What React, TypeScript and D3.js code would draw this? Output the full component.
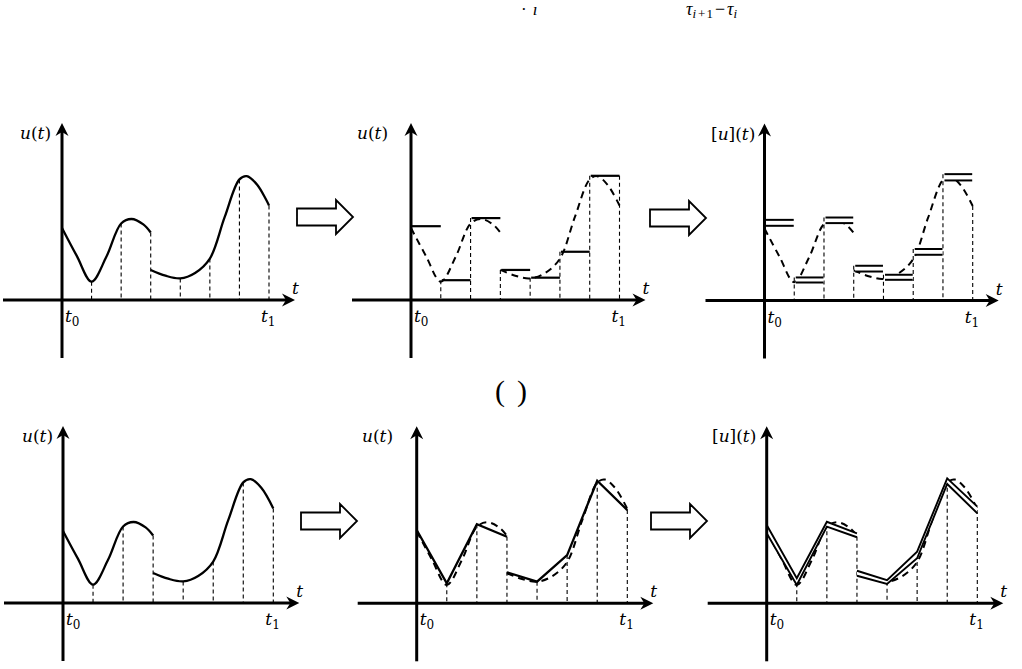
import * as d3 from "d3";

// node indices t0 .. t7 (t7 = t1 on the picture)
const nodes = [0, 1, 2, 3, 4, 5, 6, 7];

// smooth u(t), with a jump at node 3
const curveLeft: [number, number][] = [
  [0, 4.0], [0.5, 2.45], [1, 1.02], [1.5, 2.4], [2, 4.25], [2.35, 4.5], [2.75, 4.2], [3, 3.75],
];
const curveRight: [number, number][] = [
  [3, 1.67], [3.5, 1.35], [4, 1.2], [4.5, 1.5], [5, 2.3], [5.5, 4.6], [6, 6.7], [6.25, 6.88], [6.6, 6.4], [7, 5.25],
];

// piecewise constant approximation, one value per interval
const stepValues = [4.1, 1.1, 4.55, 1.67, 1.24, 2.68, 6.9];
// interval version : lower and upper bound per interval
const stepLower = [4.15, 1.0, 4.3, 1.61, 1.15, 2.54, 6.67];
const stepUpper = [4.48, 1.28, 4.61, 1.93, 1.43, 2.86, 7.02];

// piecewise linear approximation (nodes 0..3, then 3..7)
const linLeft = [4.07, 1.11, 4.39, 3.7];
const linRight = [1.72, 1.2, 2.68, 6.81, 5.18];
// interval version of the linear one
const bandLeftLo = [3.89, 1.02, 4.26, 3.67];
const bandLeftHi = [4.35, 1.39, 4.53, 3.89];
const bandRightLo = [1.53, 1.07, 2.5, 6.63, 5.0];
const bandRightHi = [1.81, 1.29, 2.87, 6.94, 5.37];

type Kind = "curve" | "step" | "box" | "linear" | "band";

const panels: { x0: number; x1: number; y0: number; lx: number; label: string; kind: Kind }[] = [
  { x0: 62, x1: 269, y0: 300, lx: 20, label: "u", kind: "curve" },
  { x0: 411, x1: 619.5, y0: 300, lx: 357, label: "u", kind: "step" },
  { x0: 764.5, x1: 972.7, y0: 300.5, lx: 711, label: "[u]", kind: "box" },
  { x0: 63, x1: 273.3, y0: 603, lx: 22, label: "u", kind: "curve" },
  { x0: 416.7, x1: 627.3, y0: 603.3, lx: 362, label: "u", kind: "linear" },
  { x0: 766.7, x1: 977.3, y0: 603.3, lx: 712, label: "[u]", kind: "band" },
];

const blockArrows = [
  { x: 297, y: 217 },
  { x: 650, y: 218 },
  { x: 301, y: 521 },
  { x: 651, y: 521 },
];

const FONT = "DejaVu Serif";

function Panel({ x0, x1, y0, lx, label, kind }: (typeof panels)[number]) {
  const x = d3.scaleLinear().domain([0, 7]).range([x0, x1]);
  const y = d3.scaleLinear().domain([0, 10]).range([y0, y0 - 180]);

  const smooth = d3
    .line<[number, number]>()
    .x((d) => x(d[0]))
    .y((d) => y(d[1]))
    .curve(d3.curveCatmullRom.alpha(0.5));
  const straight = d3
    .line<[number, number]>()
    .x((d) => x(d[0]))
    .y((d) => y(d[1]));

  const leftPts = (vals: number[]) => vals.map((v, i) => [i, v] as [number, number]);
  const rightPts = (vals: number[]) => vals.map((v, i) => [i + 3, v] as [number, number]);

  const curveAt = (t: number) => {
    const a = curveLeft.find((p) => p[0] === t);
    const b = curveRight.find((p) => p[0] === t);
    return Math.max(a ? a[1] : -1, b ? b[1] : -1);
  };
  const linAt = (t: number) => Math.max(t <= 3 ? linLeft[t] : -1, t >= 3 ? linRight[t - 3] : -1);

  // where the dashed drop lines start
  const dropTop = (t: number) => {
    if (kind === "step") return stepValues[Math.min(t, 6)];
    if (kind === "box") return t < 7 ? stepUpper[t] : curveAt(7);
    if (kind === "linear" || kind === "band") return linAt(t);
    return curveAt(t);
  };

  const top = y0 - 177;
  const bottom = y0 + 58;
  const left = x0 - 59;
  const tip = x1 + 26;

  const dashedCurve = (
    <g fill="none" stroke="#000" strokeWidth={2} strokeDasharray="7,5">
      <path d={smooth(curveLeft) ?? ""} />
      <path d={smooth(curveRight) ?? ""} />
    </g>
  );

  return (
    <g>
      {/* drop lines */}
      <g stroke="#000" strokeWidth={1.1} strokeDasharray="4,3">
        {nodes.slice(1).map((t) => (
          <line key={t} x1={x(t)} x2={x(t)} y1={y(dropTop(t))} y2={y0} />
        ))}
      </g>

      {kind === "curve" && (
        <g fill="none" stroke="#000" strokeWidth={2.3}>
          <path d={smooth(curveLeft) ?? ""} />
          <path d={smooth(curveRight) ?? ""} />
        </g>
      )}

      {kind === "step" && (
        <g>
          {dashedCurve}
          <g stroke="#000" strokeWidth={2.2}>
            {stepValues.map((v, i) => (
              <line key={i} x1={x(i) + 1} x2={x(i + 1)} y1={y(v)} y2={y(v)} />
            ))}
          </g>
        </g>
      )}

      {kind === "box" && (
        <g>
          {dashedCurve}
          {stepValues.map((_, i) => (
            <g key={i}>
              <rect
                x={x(i) + 1.5}
                width={x(i + 1) - x(i) - 2}
                y={y(stepUpper[i])}
                height={y(stepLower[i]) - y(stepUpper[i])}
                fill="#fff"
              />
              <g stroke="#000" strokeWidth={2}>
                <line x1={x(i) + 1.5} x2={x(i + 1) - 0.5} y1={y(stepUpper[i])} y2={y(stepUpper[i])} />
                <line x1={x(i) + 1.5} x2={x(i + 1) - 0.5} y1={y(stepLower[i])} y2={y(stepLower[i])} />
              </g>
            </g>
          ))}
        </g>
      )}

      {kind === "linear" && (
        <g>
          {dashedCurve}
          <g fill="none" stroke="#000" strokeWidth={2.3} strokeLinejoin="miter">
            <path d={straight(leftPts(linLeft)) ?? ""} />
            <path d={straight(rightPts(linRight)) ?? ""} />
          </g>
        </g>
      )}

      {kind === "band" && (
        <g>
          {dashedCurve}
          {[
            [bandLeftLo, bandLeftHi, 0],
            [bandRightLo, bandRightHi, 3],
          ].map(([lo, hi, off], k) => {
            const lp = (lo as number[]).map((v, i) => [i + (off as number), v] as [number, number]);
            const hp = (hi as number[]).map((v, i) => [i + (off as number), v] as [number, number]);
            const area = d3
              .area<number>()
              .x((i) => x(lp[i][0]))
              .y0((i) => y(lp[i][1]))
              .y1((i) => y(hp[i][1]));
            return (
              <g key={k}>
                <path d={area(lp.map((_, i) => i)) ?? ""} fill="#fff" />
                <path d={straight(lp) ?? ""} fill="none" stroke="#000" strokeWidth={1.9} />
                <path d={straight(hp) ?? ""} fill="none" stroke="#000" strokeWidth={1.9} />
              </g>
            );
          })}
        </g>
      )}

      {/* axes */}
      <g stroke="#000" strokeWidth={3}>
        <line x1={left} x2={tip - 8} y1={y0} y2={y0} />
        <line x1={x0} x2={x0} y1={bottom} y2={top + 8} />
      </g>
      <path
        d={`M${tip},${y0}L${tip - 13},${y0 - 6.5}L${tip - 9},${y0}L${tip - 13},${y0 + 6.5}Z`}
        fill="#000"
      />
      <path
        d={`M${x0},${top}L${x0 - 6.5},${top + 13}L${x0},${top + 9}L${x0 + 6.5},${top + 13}Z`}
        fill="#000"
      />

      {/* labels */}
      <g fontFamily={FONT} fontSize={17} fill="#000">
        <text x={lx} y={y0 - 161}>
          {label === "[u]" ? (
            <>
              <tspan>[</tspan>
              <tspan fontStyle="italic">u</tspan>
              <tspan>](</tspan>
            </>
          ) : (
            <>
              <tspan fontStyle="italic">u</tspan>
              <tspan>(</tspan>
            </>
          )}
          <tspan fontStyle="italic">t</tspan>
          <tspan>)</tspan>
        </text>
        <text x={tip - 3} y={y0 - 6} fontStyle="italic">
          t
        </text>
        <text x={x0 + 3} y={y0 + 22}>
          <tspan fontStyle="italic">t</tspan>
          <tspan fontSize={12} dy={4}>
            0
          </tspan>
        </text>
        <text x={x1 - 8} y={y0 + 22}>
          <tspan fontStyle="italic">t</tspan>
          <tspan fontSize={12} dy={4}>
            1
          </tspan>
        </text>
      </g>
    </g>
  );
}

export default function App() {
  return (
    <svg
      width={1022}
      height={669}
      viewBox="0 0 1022 669"
      style={{ position: "absolute", left: 0, top: 0, background: "#fff" }}
    >
      {/* fragments of the formula at the top edge */}
      <g fontFamily="Liberation Serif" fill="#000">
        <text x={521} y={15} fontSize={17}>
          <tspan>·</tspan>
          <tspan fontStyle="italic" dx={6}>ı</tspan>
        </text>
        <text x={686} y={15} fontSize={18} fontStyle="italic">
          <tspan>τ</tspan>
          <tspan fontSize={13} dy={3}>i</tspan>
          <tspan fontSize={13} fontStyle="normal" dx={2}>+</tspan>
          <tspan fontSize={13} fontStyle="normal" dx={1}>1</tspan>
          <tspan dy={-3} dx={2} fontStyle="normal">−</tspan>
          <tspan dx={2}>τ</tspan>
          <tspan fontSize={13} dy={3}>i</tspan>
        </text>
      </g>

      {panels.map((p, i) => (
        <Panel key={i} {...p} />
      ))}

      {blockArrows.map((a, i) => (
        <path
          key={i}
          d={`M${a.x},${a.y - 8.5}H${a.x + 39}V${a.y - 17}L${a.x + 56},${a.y}L${a.x + 39},${a.y + 17}V${a.y + 8.5}H${a.x}Z`}
          fill="#fff"
          stroke="#000"
          strokeWidth={1.8}
          strokeLinejoin="miter"
        />
      ))}

      <text x={495} y={401} fontFamily="Liberation Serif" fontSize={30} fill="#000">
        (
      </text>
      <text x={517} y={401} fontFamily="Liberation Serif" fontSize={30} fill="#000">
        )
      </text>
    </svg>
  );
}
